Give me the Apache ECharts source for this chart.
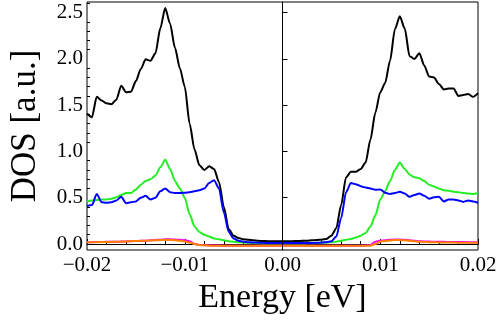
<!DOCTYPE html>
<html>
<head>
<meta charset="utf-8">
<script src="https://cdn.jsdelivr.net/npm/echarts@6/dist/echarts.min.js"></script>
<style>
  html, body { margin: 0; padding: 0; background: #fff; }
  #chart { width: 500px; height: 320px; }
</style>
</head>
<body>
<div id="chart"></div>
<script>
// energy grid, eV (0.0005 eV steps from -0.02 to 0.02)
const energyStart = -0.02
const energyStep = 0.0005
const pointCount = 81

// DOS values, one per energy
const totalDos = [
  1.41, 1.37, 1.59, 1.55, 1.52, 1.51, 1.56, 1.71, 1.64, 1.645,
  1.76, 1.89, 1.995, 1.98, 2.06, 2.33, 2.55, 2.38, 2.12, 1.90,
  1.70, 1.30, 1.02, 0.85, 0.80, 0.84, 0.81, 0.67, 0.40, 0.16,
  0.09, 0.065, 0.05, 0.045, 0.04, 0.035, 0.032, 0.03, 0.03, 0.03,
  0.03,
  0.03, 0.03, 0.032, 0.034, 0.036, 0.04, 0.043, 0.047, 0.055, 0.09,
  0.17, 0.42, 0.72, 0.78, 0.78, 0.81, 0.88, 1.13, 1.42, 1.64,
  1.74, 1.98, 2.32, 2.46, 2.33, 2.03, 2.00, 2.06, 1.93, 1.81,
  1.80, 1.73, 1.67, 1.68, 1.68, 1.60, 1.61, 1.62, 1.59, 1.63
]
const greenDos = [
  0.46, 0.47, 0.475, 0.48, 0.48, 0.49, 0.505, 0.53, 0.55, 0.55,
  0.59, 0.64, 0.68, 0.70, 0.74, 0.83, 0.91, 0.81, 0.68, 0.60,
  0.50, 0.32, 0.19, 0.13, 0.10, 0.08, 0.06, 0.05, 0.04, 0.03,
  0.025, 0.02, 0.015, 0.012, 0.01, 0.008, 0.006, 0.005, 0.005, 0.005,
  0.005,
  0.005, 0.005, 0.005, 0.006, 0.007, 0.008, 0.01, 0.012, 0.015, 0.02,
  0.025, 0.035, 0.045, 0.055, 0.07, 0.09, 0.12, 0.19, 0.31, 0.48,
  0.57, 0.68, 0.80, 0.88, 0.81, 0.75, 0.72, 0.71, 0.68, 0.64,
  0.62, 0.60, 0.58, 0.575, 0.565, 0.56, 0.55, 0.545, 0.54, 0.55
]
const blueDos = [
  0.41, 0.42, 0.54, 0.45, 0.445, 0.45, 0.47, 0.51, 0.44, 0.45,
  0.46, 0.50, 0.52, 0.48, 0.50, 0.57, 0.60, 0.56, 0.55, 0.55,
  0.555, 0.56, 0.57, 0.58, 0.60, 0.66, 0.69, 0.60, 0.34, 0.13,
  0.06, 0.035, 0.025, 0.02, 0.016, 0.014, 0.012, 0.01, 0.01, 0.01,
  0.01,
  0.01, 0.01, 0.01, 0.01, 0.01, 0.01, 0.012, 0.015, 0.02, 0.03,
  0.08, 0.28, 0.56, 0.66, 0.645, 0.625, 0.61, 0.60, 0.585, 0.59,
  0.555, 0.54, 0.55, 0.565, 0.545, 0.51, 0.53, 0.545, 0.52, 0.49,
  0.505, 0.51, 0.46, 0.48, 0.48, 0.47, 0.455, 0.47, 0.46, 0.445
]
const magentaDos = [
  0.02, 0.02, 0.021, 0.022, 0.023, 0.024, 0.025, 0.026, 0.028, 0.03,
  0.032, 0.034, 0.036, 0.04, 0.043, 0.046, 0.05, 0.05, 0.048, 0.045,
  0.04, 0.03, 0.0, -0.01, -0.013, -0.015, -0.016, -0.017, -0.018, -0.018,
  -0.018, -0.018, -0.018, -0.018, -0.018, -0.018, -0.018, -0.018, -0.018, -0.018,
  -0.018,
  -0.018, -0.018, -0.018, -0.018, -0.018, -0.018, -0.018, -0.018, -0.018, -0.018,
  -0.018, -0.018, -0.018, -0.018, -0.018, -0.018, -0.016, -0.01, 0.025, 0.035,
  0.04, 0.045, 0.048, 0.048, 0.045, 0.04, 0.035, 0.03, 0.028, 0.026,
  0.025, 0.024, 0.023, 0.022, 0.022, 0.021, 0.021, 0.02, 0.02, 0.02
]
const orangeDos = [
  0.018, 0.019, 0.02, 0.021, 0.022, 0.023, 0.024, 0.025, 0.027, 0.03,
  0.032, 0.034, 0.036, 0.038, 0.04, 0.043, 0.045, 0.044, 0.04, 0.035,
  0.028, 0.015, 0.0, -0.01, -0.015, -0.018, -0.02, -0.02, -0.02, -0.02,
  -0.02, -0.02, -0.02, -0.02, -0.02, -0.02, -0.02, -0.02, -0.02, -0.02,
  -0.02,
  -0.02, -0.02, -0.02, -0.02, -0.02, -0.02, -0.02, -0.02, -0.02, -0.02,
  -0.02, -0.02, -0.02, -0.02, -0.02, -0.02, -0.02, -0.018, 0.0, 0.025,
  0.033, 0.038, 0.042, 0.043, 0.04, 0.035, 0.03, 0.025, 0.022, 0.02,
  0.018, 0.017, 0.016, 0.015, 0.015, 0.014, 0.013, 0.013, 0.012, 0.012
]

// axis ticks
const xMajorTicks = [-0.02, -0.01, 0, 0.01, 0.02]
const yMajorTicks = [0, 0.5, 1, 1.5, 2, 2.5]
const yMinorTicks = [0.1, 0.2, 0.3, 0.4, 0.6, 0.7, 0.8, 0.9, 1.1, 1.2, 1.3, 1.4,
  1.6, 1.7, 1.8, 1.9, 2.1, 2.2, 2.3, 2.4, 2.6]

const energies = Array.from({ length: pointCount }, (_, i) => +(energyStart + i * energyStep).toFixed(4))
const pairs = (values) => energies.map((e, i) => [e, values[i]])

const font = 'Liberation Serif'
const minus = (s) => s.replace('-', '\u2212')

const chart = echarts.init(document.getElementById('chart'), null, { renderer: 'canvas' })

function line(values, color) {
  return {
    type: 'line',
    data: pairs(values),
    showSymbol: false,
    symbol: 'none',
    smooth: 0.25,
    smoothMonotone: 'x',
    animation: false,
    lineStyle: { color, width: 2 },
    itemStyle: { color },
  }
}

const black = line(totalDos, '#000000')
black.markLine = {
  silent: true,
  symbol: 'none',
  label: { show: false },
  lineStyle: { color: '#000', width: 1, type: 'solid' },
  data: [{ xAxis: 0 }],
}

chart.setOption({
  animation: false,
  backgroundColor: '#fff',
  grid: {
    left: 76, right: 22, top: 2, bottom: 70,
    show: true, borderColor: '#000', borderWidth: 1,
  },
  xAxis: {
    type: 'value',
    min: xMajorTicks[0],
    max: xMajorTicks[xMajorTicks.length - 1],
    interval: 0.01,
    name: 'Energy [eV]',
    nameLocation: 'middle',
    nameGap: 31,
    nameTextStyle: { fontFamily: font, fontSize: 34, color: '#000' },
    axisLine: { lineStyle: { color: '#000', width: 1 } },
    axisTick: { inside: true, length: 5, lineStyle: { color: '#000' } },
    minorTick: { show: true, splitNumber: 5, length: 3, lineStyle: { color: '#000' } },
    splitLine: { show: false },
    axisLabel: {
      fontFamily: font, fontSize: 21, color: '#000', margin: 5,
      showMinLabel: true, showMaxLabel: true,
      formatter: (v) => minus(v.toFixed(2)),
    },
  },
  yAxis: [
    {
      type: 'value',
      min: -0.065,
      max: 2.615,
      name: 'DOS [a.u.]',
      nameLocation: 'middle',
      nameGap: 44,
      nameTextStyle: { fontFamily: font, fontSize: 35, color: '#000' },
      axisLine: { show: true, lineStyle: { color: '#000', width: 1 } },
      axisTick: { show: true, inside: true, length: 5, customValues: yMajorTicks, lineStyle: { color: '#000' } },
      splitLine: { show: false },
      axisLabel: {
        fontFamily: font, fontSize: 21, color: '#000', margin: 4,
        customValues: yMajorTicks,
        formatter: (v) => v.toFixed(1),
      },
    },
    {
      type: 'value',
      min: -0.065,
      max: 2.615,
      position: 'left',
      axisLine: { show: false },
      axisTick: { show: true, inside: true, length: 3, customValues: yMinorTicks, lineStyle: { color: '#000' } },
      axisLabel: { show: false },
      splitLine: { show: false },
    },
  ],
  series: [
    black,
    line(greenDos, '#22ee22'),
    line(blueDos, '#0000ff'),
    line(magentaDos, '#ff00ff'),
    line(orangeDos, '#ff8000'),
  ],
})
</script>
</body>
</html>
